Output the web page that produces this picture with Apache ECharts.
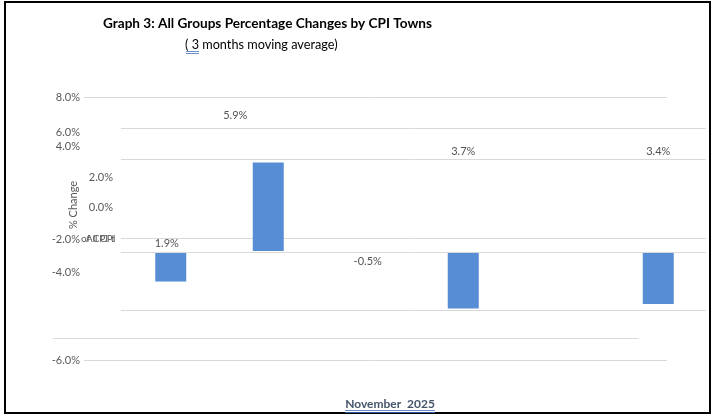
<!DOCTYPE html>
<html>
<head>
<meta charset="utf-8">
<title>Graph 3: All Groups Percentage Changes by CPI Towns</title>
<script src="https://cdn.jsdelivr.net/npm/echarts@6/dist/echarts.min.js"></script>
<style>
  html, body { margin: 0; padding: 0; background: #fff; }
  #chart { width: 713px; height: 417px; }
</style>
</head>
<body>
<div id="chart"></div>
<script>
// data
var towns = ['Town 1', 'Town 2', 'Town 3', 'Town 4', 'Town 5', 'Town 6'];
var change = [1.9, 5.9, -0.5, 3.7, null, 3.4];
// which way each bar is drawn in the (broken) original
var drawn = ['down', 'up', 'none', 'down', null, 'down'];

// y tick labels, grouped the way they are scattered on the left
var ticksOuter = [8, -6];
var ticksUpper = [6, 4];
var ticksInner = [2, 0];
var ticksLower = [-2, -4];

var title = 'Graph 3: All Groups Percentage Changes by CPI Towns';
var subtitle = '( 3 months moving average)';
var yName = '% Change';
var xName = 'November  2025';

var FONT = 'Lato';
var GRID_LINE = '#d9d9d9';
var TICK_COLOR = '#595959';

var grids = [], xAxes = [], yAxes = [];

function pct(v) { return v.toFixed(1) + '%'; }

function addGrid(g) {
    grids.push(Object.assign({ containLabel: false }, g));
    var idx = grids.length - 1;
    xAxes.push({
        type: 'category', gridIndex: idx, data: towns,
        axisLine: { show: false }, axisTick: { show: false }, axisLabel: { show: false }
    });
    return idx;
}

// tick-label axis: shows the two values at both ends of its little grid
function labelAxis(g, ticks) {
    var idx = addGrid(g);
    var lo = Math.min.apply(null, ticks), hi = Math.max.apply(null, ticks);
    yAxes.push({
        type: 'value', gridIndex: idx, min: lo, max: hi, interval: hi - lo,
        axisLine: { show: false }, axisTick: { show: false },
        splitLine: { show: false },
        axisLabel: { formatter: pct, color: TICK_COLOR, fontSize: 11, fontFamily: FONT, margin: 4 }
    });
}

// gridline pair at top and bottom of a grid
function linePair(g, showLabels, ticks) {
    var idx = addGrid(g);
    var lo = ticks ? Math.min.apply(null, ticks) : 0, hi = ticks ? Math.max.apply(null, ticks) : 1;
    yAxes.push({
        type: 'value', gridIndex: idx, min: lo, max: hi, interval: hi - lo,
        axisLine: { show: false }, axisTick: { show: false },
        splitLine: { show: true, lineStyle: { color: GRID_LINE, width: 1 } },
        axisLabel: { show: !!showLabels, formatter: pct, color: TICK_COLOR, fontSize: 11, fontFamily: FONT, margin: 4 }
    });
}

// single gridline drawn as the top edge of a grid
function singleLine(g) {
    var idx = addGrid(g);
    xAxes[idx].position = 'top';
    xAxes[idx].axisLine = { show: true, lineStyle: { color: GRID_LINE, width: 1 } };
    yAxes.push({ type: 'value', gridIndex: idx, show: false });
}

// 0: the bars
addGrid({ left: 122, right: 6, top: 97, bottom: 57 });
yAxes.push({ type: 'value', gridIndex: 0, show: false, min: -7.27, max: 10.27 });          // up bars
yAxes.push({ type: 'value', gridIndex: 0, show: false, min: -10.4, max: 7.13, inverse: true }); // hanging bars

// gridlines + scattered tick labels
linePair({ left: 84, right: 46, top: 97, bottom: 57 }, true, ticksOuter);
linePair({ left: 121, right: 7, top: 128, height: 31 });
linePair({ left: 121, right: 7, top: 238, height: 14 });
linePair({ left: 121, right: 7, top: 252, height: 58 });
singleLine({ left: 53, right: 75, top: 328, height: 10 });
labelAxis({ left: 84, right: 46, top: 132, height: 14 }, ticksUpper);
labelAxis({ left: 117, right: 46, top: 177, height: 30 }, ticksInner);
labelAxis({ left: 84, right: 46, top: 239, height: 33 }, ticksLower);

// data-label offsets relative to each bar's base (layout only)
var labelShift = [[-4, -8], [-33, -136], [2, 10], [0, -100], null, [0, -100]];

var upData = change.map(function (v, i) { return drawn[i] === 'up' ? v : null; });
var downData = change.map(function (v, i) { return drawn[i] === 'down' ? v : null; });
var labelData = change.map(function (v, i) {
    if (v == null) return null;
    return { value: [i, 0], pct: v, label: { offset: labelShift[i] } };
});

var option = {
    animation: false,
    backgroundColor: '#fff',
    grid: grids,
    xAxis: xAxes,
    yAxis: yAxes,
    graphic: [
        { type: 'rect', shape: { x: 5, y: 2, width: 705, height: 411 },
          style: { fill: 'none', stroke: '#000', lineWidth: 2 }, silent: true },
        { type: 'text', left: 103, top: 17,
          style: { text: title, font: 'bold 13.6px ' + FONT, fill: '#000' } },
        { type: 'text', left: 185, top: 38,
          style: { text: subtitle, font: '12.7px ' + FONT, fill: '#000' } },
        { type: 'line', shape: { x1: 186, y1: 51.5, x2: 199, y2: 51.5 }, style: { stroke: '#4472c4', lineWidth: 0.8 } },
        { type: 'line', shape: { x1: 186, y1: 53.5, x2: 199, y2: 53.5 }, style: { stroke: '#4472c4', lineWidth: 0.8 } },
        { type: 'text', x: 73, y: 205, rotation: Math.PI / 2,
          style: { text: yName, font: '11px ' + FONT, fill: TICK_COLOR, align: 'center', verticalAlign: 'middle' } },
        { type: 'text', x: 81, y: 239,
          style: { text: 'of CPI towns', font: '10px ' + FONT, fill: TICK_COLOR, verticalAlign: 'middle',
                   width: 39, overflow: 'truncate', ellipsis: '' } },
        { type: 'text', x: 86, y: 239,
          style: { text: 'All CPI towns', font: '10px ' + FONT, fill: TICK_COLOR, verticalAlign: 'middle',
                   width: 34, overflow: 'truncate', ellipsis: '' } },
        { type: 'text', x: 390, y: 404,
          style: { text: xName, font: 'bold 12px ' + FONT, fill: '#44546a', align: 'center', verticalAlign: 'middle' } },
        { type: 'line', shape: { x1: 345, y1: 410.5, x2: 435, y2: 410.5 }, style: { stroke: '#4472c4', lineWidth: 0.8 } },
        { type: 'line', shape: { x1: 345, y1: 412.5, x2: 435, y2: 412.5 }, style: { stroke: '#4472c4', lineWidth: 0.8 } }
    ],
    series: [
        {
            type: 'bar', name: 'up', xAxisIndex: 0, yAxisIndex: 0, barWidth: 31,
            data: upData, itemStyle: { color: '#568dd4' }
        },
        {
            type: 'bar', name: 'down', xAxisIndex: 0, yAxisIndex: 1, barWidth: 31, barGap: '-100%',
            data: downData, itemStyle: { color: '#568dd4' }
        },
        {
            type: 'scatter', name: 'labels', xAxisIndex: 0, yAxisIndex: 0, symbolSize: 0,
            data: labelData,
            label: {
                show: true, position: 'inside', color: '#262626', fontSize: 11, fontFamily: FONT,
                formatter: function (p) { return pct(p.data.pct); }
            }
        }
    ]
};

var myChart = echarts.init(document.getElementById('chart'), null, { renderer: 'canvas' });
myChart.setOption(option);
</script>
</body>
</html>
